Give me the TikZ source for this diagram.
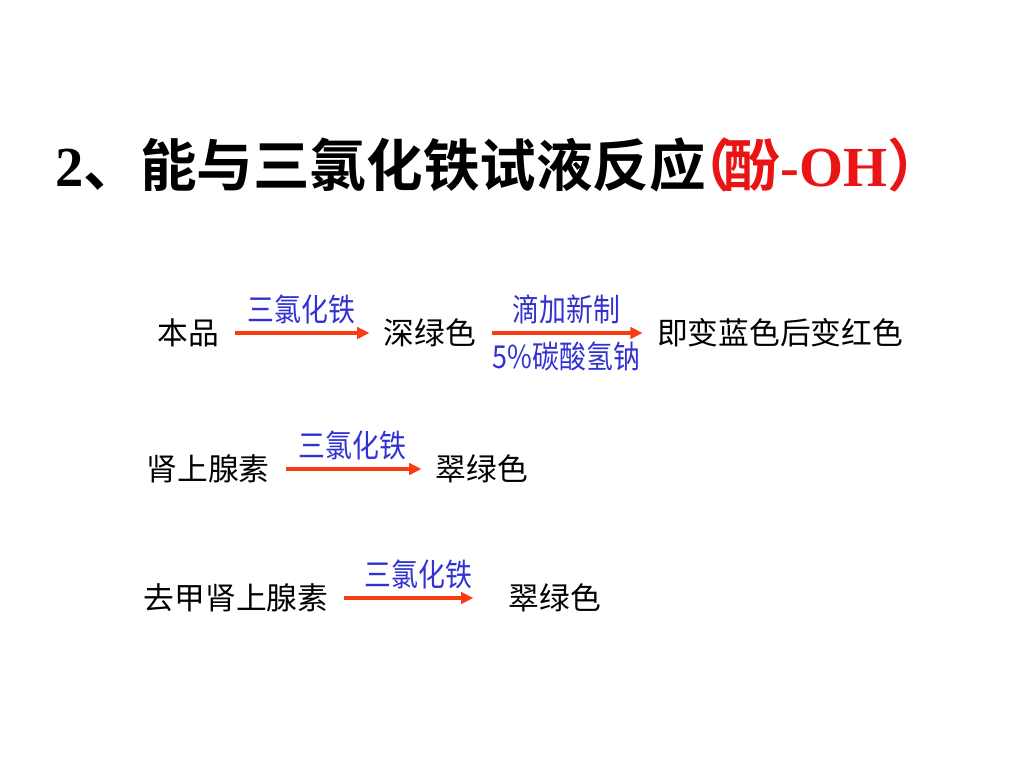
\documentclass[tikz,border=0pt]{standalone}
\usepackage{fontspec}
\usepackage{xcolor}
\usetikzlibrary{arrows.meta}
\setmainfont{Liberation Serif}
\newfontfamily\cjk[BoldFont={Noto Sans CJK SC Bold}]{Noto Sans CJK SC}
\definecolor{titlered}{RGB}{235,20,20}
\definecolor{rxnred}{RGB}{250,60,20}
\definecolor{rxnblue}{RGB}{50,50,210}

\begin{document}
\begin{tikzpicture}[x=0.02cm, y=-0.02cm,
  chem/.style={inner sep=0pt, font=\cjk\fontsize{17.5}{20}\selectfont},
  cond/.style={inner sep=0pt, text=rxnblue, xscale=0.85, font=\cjk\fontsize{18}{21}\selectfont},
  rxn/.style={rxnred, line width=2.2pt, -{Triangle[length=7pt,width=6.5pt]}, shorten <=9pt, shorten >=8pt}]
\useasboundingbox (0,0) rectangle (1024,768);

% title
\node[inner sep=0pt, anchor=west] (title) at (55,165)
  {\fontsize{32.2}{36}\selectfont\bfseries 2{\cjk 、能与三氯化铁试液反应}};
\node[inner sep=0pt, anchor=west, text=titlered] (phenol) at (title.east)
  {\fontsize{32.2}{36}\selectfont\bfseries{\cjk\hspace{-0.55em}（\hspace{-0.15em}酚}-OH{\cjk ）}};

% first reaction
\node[chem] (benpin) at (188,333) {本品};
\node[chem] (shenlv) at (430,333) {深绿色};
\node[chem] (lanhong) at (780,333) {即变蓝色后变红色};
\draw[rxn] (benpin) -- (shenlv) node[cond, midway, above=4pt] (fecl1) {三氯化铁};
\draw[rxn] (shenlv) -- (lanhong)
  node[cond, midway, above=4pt] (nahco1) {滴加新制}
  node[cond, midway, below=4pt] (nahco2) {5\%碳酸氢钠};

% second reaction
\node[chem] (shensu) at (208,469) {肾上腺素};
\node[chem] (cuilv1) at (482,469) {翠绿色};
\draw[rxn] (shensu) -- (cuilv1) node[cond, midway, above=4pt] (fecl2) {三氯化铁};

% third reaction
\node[chem] (qujia) at (236,598) {去甲肾上腺素};
\node[chem] (cuilv2) at (555,598) {翠绿色};
\draw[rxn, shorten >=20pt] (qujia) -- (cuilv2) node[cond, midway, above=4pt] (fecl3) {三氯化铁};

\end{tikzpicture}
\end{document}
